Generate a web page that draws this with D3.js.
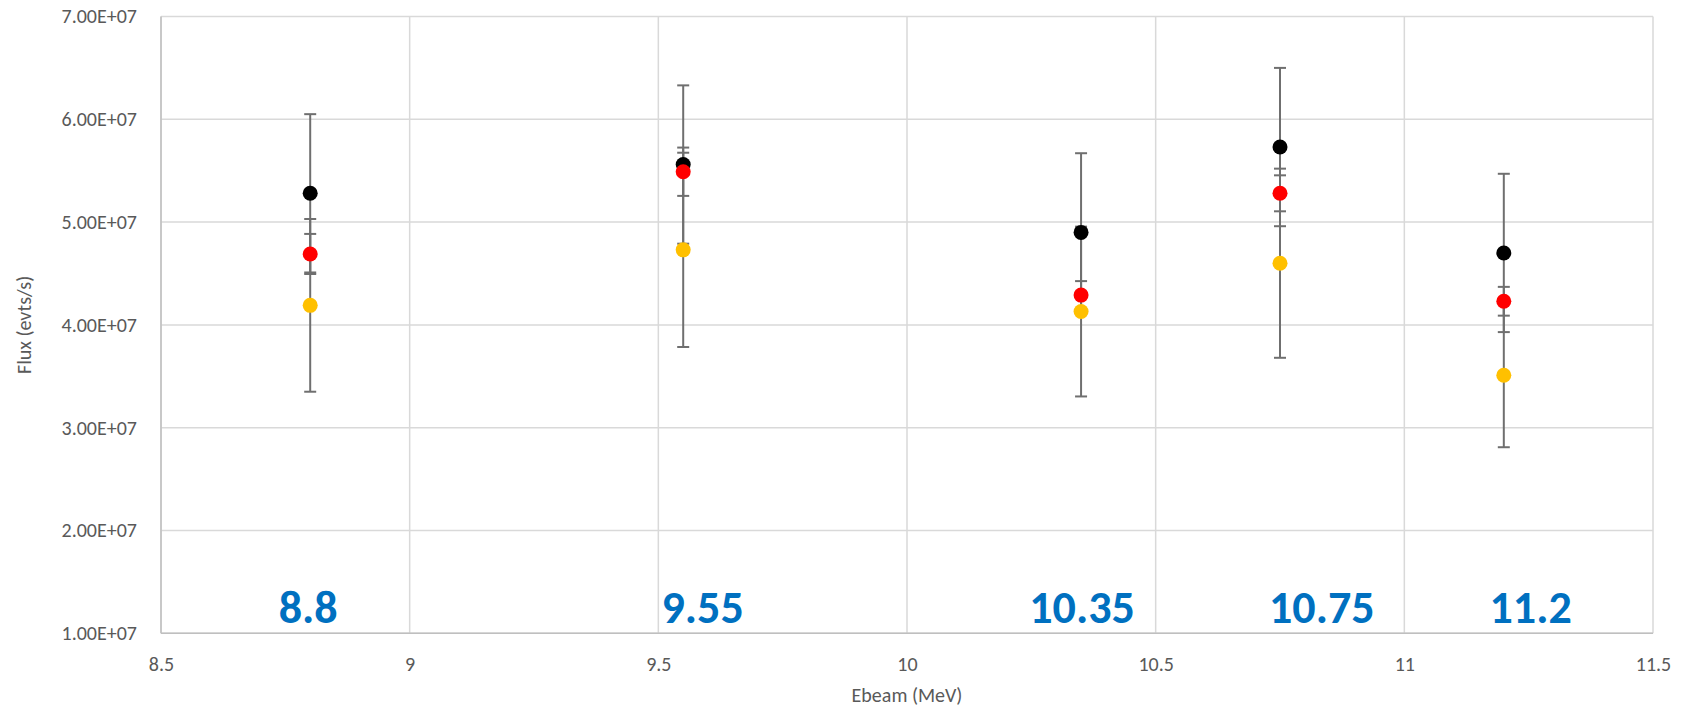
<!DOCTYPE html>
<html>
<head>
<meta charset="utf-8">
<script src="https://cdn.jsdelivr.net/npm/d3@7"></script>
<style>
  body { margin: 0; background: #fff; }
  svg text { font-family: Calibri, Carlito, Lato, sans-serif; }
</style>
</head>
<body>
<svg id="chart" width="1685" height="721"></svg>
<script>
// beam energies (MeV) and flux for the three series
const ebeam = [8.8, 9.55, 10.35, 10.75, 11.2];
const fluxBlack = [5.28e7, 5.56e7, 4.90e7, 5.73e7, 4.70e7];
const errBlack = [0.77e7, 0.77e7, 0.77e7, 0.77e7, 0.77e7];
const fluxRed = [4.69e7, 5.49e7, 4.29e7, 5.28e7, 4.23e7];
const errRed = [0.195e7, 0.235e7, 0.136e7, 0.175e7, 0.14e7];
const fluxYellow = [4.19e7, 4.73e7, 4.13e7, 4.60e7, 3.51e7];
const errYellow = [0.84e7, 0.945e7, 0.826e7, 0.92e7, 0.70e7];

// hand placed text boxes, in axis units
const energyLabels = ["8.8", "9.55", "10.35", "10.75", "11.2"];
const labelAt = [8.796, 9.589, 10.352, 10.834, 11.254];

const xTicks = [8.5, 9, 9.5, 10, 10.5, 11, 11.5];
const yTicks = [1e7, 2e7, 3e7, 4e7, 5e7, 6e7, 7e7];
const yTickLabels = ["1.00E+07", "2.00E+07", "3.00E+07", "4.00E+07", "5.00E+07", "6.00E+07", "7.00E+07"];

const svg = d3.select("#chart");
const margin = {top: 16.5, right: 32, bottom: 87.7, left: 161};
const width = 1685, height = 721;

const x = d3.scaleLinear().domain([8.5, 11.5]).range([margin.left, width - margin.right]);
const y = d3.scaleLinear().domain([1e7, 7e7]).range([height - margin.bottom, margin.top]);

// grid
svg.append("g")
  .selectAll("line")
  .data(yTicks)
  .join("line")
  .attr("x1", x(8.5)).attr("x2", x(11.5))
  .attr("y1", d => y(d)).attr("y2", d => y(d))
  .attr("stroke", "#d9d9d9").attr("stroke-width", 1.5);

svg.append("g")
  .selectAll("line")
  .data(xTicks)
  .join("line")
  .attr("x1", d => x(d)).attr("x2", d => x(d))
  .attr("y1", y(1e7)).attr("y2", y(7e7))
  .attr("stroke", "#d9d9d9").attr("stroke-width", 1.5);

// axis lines
svg.append("line")
  .attr("x1", x(8.5)).attr("x2", x(8.5)).attr("y1", y(1e7)).attr("y2", y(7e7))
  .attr("stroke", "#bfbfbf").attr("stroke-width", 1.5);
svg.append("line")
  .attr("x1", x(8.5)).attr("x2", x(11.5)).attr("y1", y(1e7)).attr("y2", y(1e7))
  .attr("stroke", "#bfbfbf").attr("stroke-width", 1.5);

// axes (text only)
const yAxis = svg.append("g")
  .attr("transform", `translate(${margin.left},0)`)
  .call(d3.axisLeft(y).tickValues(yTicks).tickFormat((d, i) => yTickLabels[i]).tickSize(0).tickPadding(24));
yAxis.select(".domain").remove();
yAxis.selectAll("text").attr("fill", "#595959").style("font-size", "20px");

const xAxis = svg.append("g")
  .attr("transform", `translate(0,${y(1e7)})`)
  .call(d3.axisBottom(x).tickValues(xTicks).tickFormat(d3.format("")).tickSize(0).tickPadding(24));
xAxis.select(".domain").remove();
xAxis.selectAll("text").attr("fill", "#595959").style("font-size", "20px");

svg.append("text")
  .attr("x", (x(8.5) + x(11.5)) / 2).attr("y", 702)
  .attr("text-anchor", "middle").attr("fill", "#595959").style("font-size", "20px")
  .text("Ebeam (MeV)");

svg.append("text")
  .attr("transform", `translate(31,${(y(1e7) + y(7e7)) / 2}) rotate(-90)`)
  .attr("text-anchor", "middle").attr("fill", "#595959").style("font-size", "20px")
  .text("Flux (evts/s)");

// energy labels
svg.append("g")
  .selectAll("text")
  .data(labelAt)
  .join("text")
  .attr("x", d => x(d)).attr("y", y(1.1e7))
  .attr("text-anchor", "middle")
  .attr("fill", "#0070c0").style("font-size", "46px").style("font-weight", "bold")
  .text((d, i) => energyLabels[i]);

const series = [
  {vals: fluxBlack, errs: errBlack, color: "#000000"},
  {vals: fluxRed, errs: errRed, color: "#ff0000"},
  {vals: fluxYellow, errs: errYellow, color: "#ffc000"}
];

// error bars
series.forEach(s => {
  const g = svg.append("g").attr("stroke", "#6f6f6f").attr("stroke-width", 2);
  s.vals.forEach((v, i) => {
    const cx = x(ebeam[i]);
    const hi = y(v + s.errs[i]), lo = y(v - s.errs[i]);
    g.append("line").attr("x1", cx).attr("x2", cx).attr("y1", hi).attr("y2", lo);
    g.append("line").attr("x1", cx - 6).attr("x2", cx + 6).attr("y1", hi).attr("y2", hi);
    g.append("line").attr("x1", cx - 6).attr("x2", cx + 6).attr("y1", lo).attr("y2", lo);
  });
});

// markers
series.forEach(s => {
  svg.append("g")
    .selectAll("circle")
    .data(s.vals)
    .join("circle")
    .attr("cx", (d, i) => x(ebeam[i]))
    .attr("cy", d => y(d))
    .attr("r", 7.5)
    .attr("fill", s.color);
});
</script>
</body>
</html>
